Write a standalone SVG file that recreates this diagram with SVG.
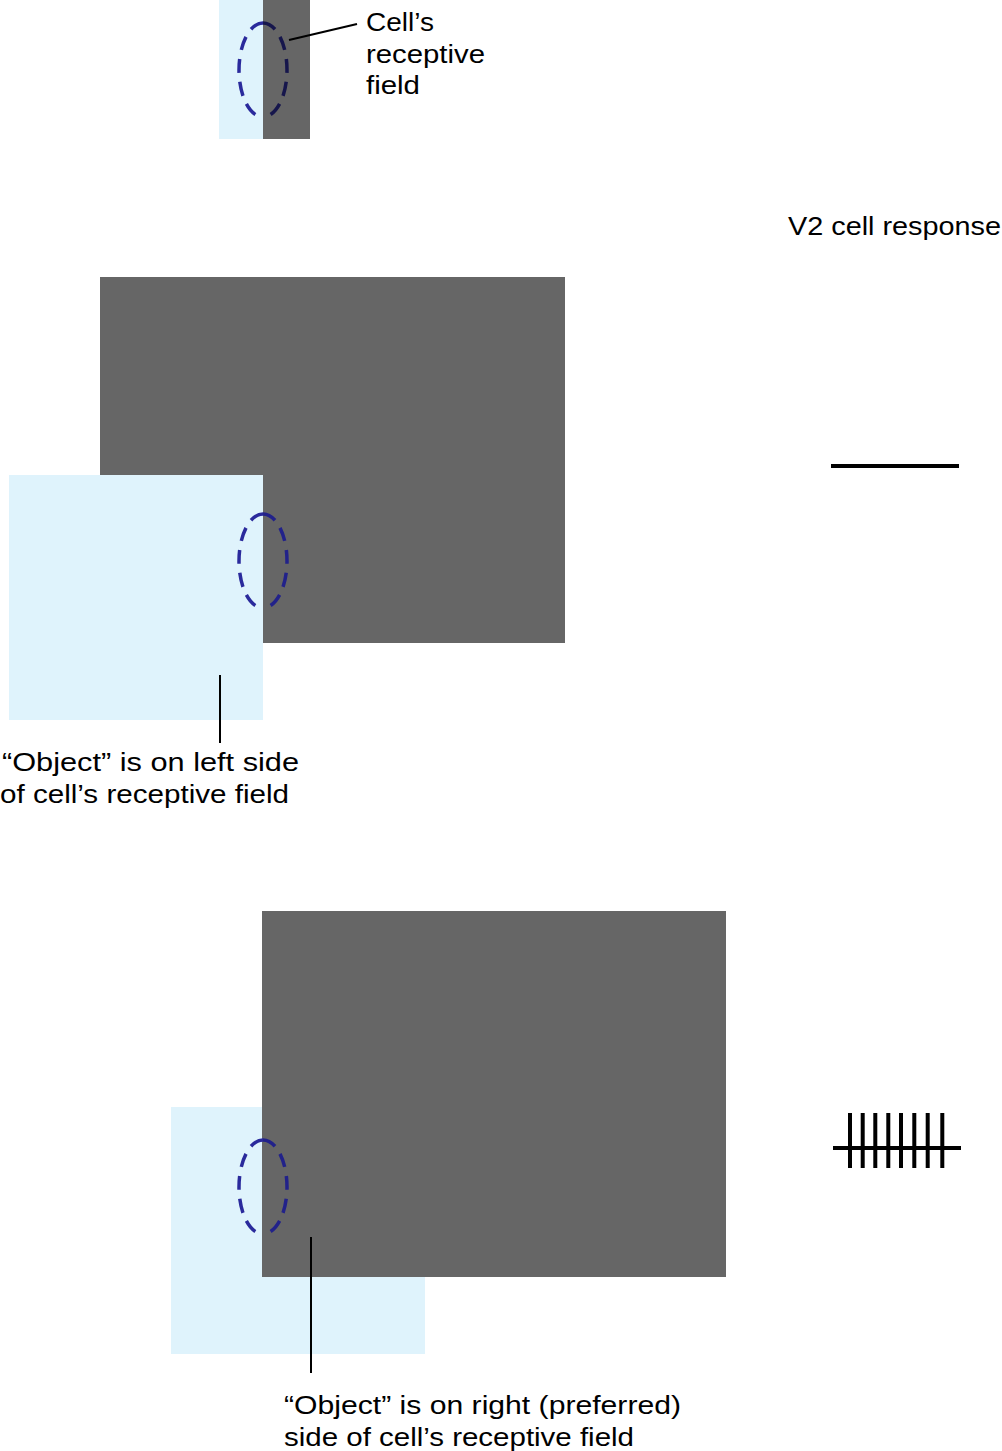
<svg xmlns="http://www.w3.org/2000/svg" width="1002" height="1451" viewBox="0 0 1002 1451">
<style>
.lb{fill:#dff3fc}
.gr{fill:#666666}
.t{font-family:"Liberation Sans",Arial,sans-serif;font-size:26px;fill:#000}
.lead{stroke:#000;stroke-width:2;fill:none}
.rf{fill:none;stroke-width:3.5;stroke-dasharray:14 9}
.rfl{stroke:#2a2a9c}
.rfr{stroke:#22228a}
.resp{stroke:#000;stroke-width:4;fill:none}
</style>
<rect width="1002" height="1451" fill="#fff"/>
<g id="top-stimulus">
<rect class="lb" x="219" y="0" width="44" height="139"/>
<rect class="gr" x="263" y="0" width="47" height="139"/>
<path class="rf rfl" d="M263,23 A24,47 0 0 0 263,117"/>
<path class="rf" stroke="#16164c" d="M263,23 A24,47 0 0 1 263,117"/>
</g>
<g id="top-label">
<text class="t" x="366" y="31" textLength="68" lengthAdjust="spacingAndGlyphs">Cell’s</text>
<text class="t" x="366" y="63" textLength="119" lengthAdjust="spacingAndGlyphs">receptive</text>
<text class="t" x="366" y="94" textLength="54" lengthAdjust="spacingAndGlyphs">field</text>
</g>
<g id="response-title">
<text class="t" x="788" y="235" textLength="213" lengthAdjust="spacingAndGlyphs">V2 cell response</text>
</g>
<g id="middle-stimulus">
<rect class="gr" x="100" y="277" width="465" height="366"/>
<rect class="lb" x="9" y="475" width="254" height="245"/>
<path class="rf rfl" d="M263,514 A24,47 0 0 0 263,608"/>
<path class="rf rfr" d="M263,514 A24,47 0 0 1 263,608"/>
</g>
<g id="middle-label">
<text class="t" x="2" y="771" textLength="297" lengthAdjust="spacingAndGlyphs">“Object” is on left side</text>
<text class="t" x="0" y="803" textLength="289" lengthAdjust="spacingAndGlyphs">of cell’s receptive field</text>
</g>
<g id="middle-response">
<line class="resp" x1="831" y1="466" x2="959" y2="466"/>
</g>
<g id="bottom-stimulus">
<rect class="lb" x="171" y="1107" width="254" height="247"/>
<rect class="gr" x="262" y="911" width="464" height="366"/>
<path class="rf rfl" d="M263,1140 A24,47 0 0 0 263,1234"/>
<path class="rf rfr" d="M263,1140 A24,47 0 0 1 263,1234"/>
</g>
<g id="bottom-label">
<text class="t" x="284" y="1414" textLength="397" lengthAdjust="spacingAndGlyphs">“Object” is on right (preferred)</text>
<text class="t" x="284" y="1446" textLength="350" lengthAdjust="spacingAndGlyphs">side of cell’s receptive field</text>
</g>
<g id="bottom-response">
<line class="resp" x1="833" y1="1148" x2="961" y2="1148"/>
<path class="resp" d="M850,1113V1168M862.7,1113V1168M875.3,1113V1168M888.3,1113V1168M901,1113V1168M914.3,1113V1168M927.7,1113V1168M942.3,1113V1168"/>
</g>
<g id="connectors">
<line class="lead" x1="289" y1="40" x2="357" y2="24"/>
<line class="lead" x1="220" y1="675" x2="220" y2="743"/>
<line class="lead" x1="311" y1="1237" x2="311" y2="1373"/>
</g>
</svg>
